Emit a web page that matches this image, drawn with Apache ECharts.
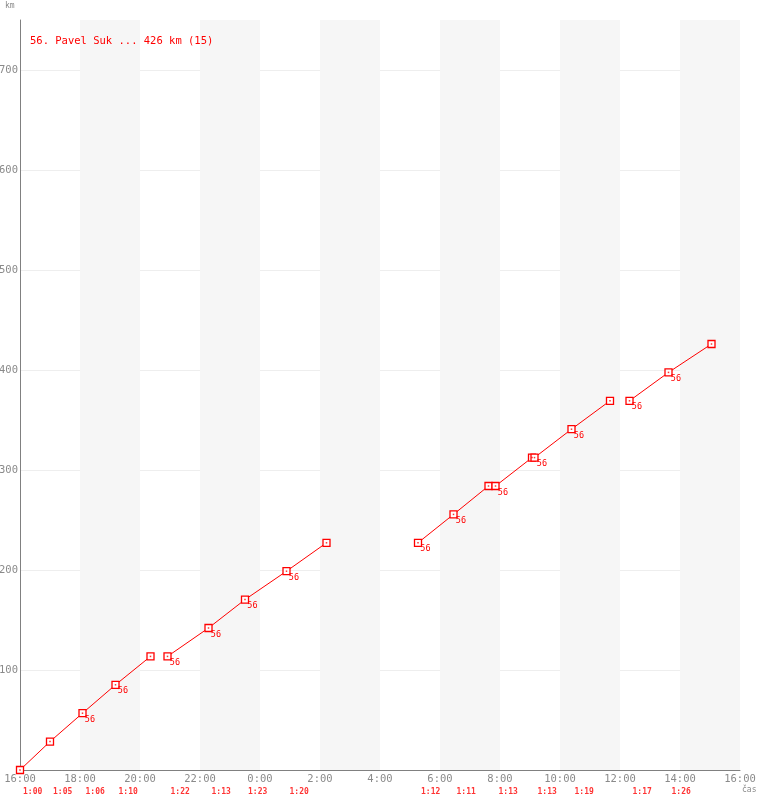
<!DOCTYPE html>
<html>
<head>
<meta charset="utf-8">
<script src="https://cdn.jsdelivr.net/npm/echarts@6/dist/echarts.min.js"></script>
<style>html,body{margin:0;padding:0;background:#fff;}#c{width:760px;height:800px;}</style>
</head>
<body>
<div id="c"></div>
<script>
// time in minutes since 16:00, distance in km
var segment = [1,1,1,1,1, 2,2,2,2,2, 3,3,3,3,3,3,3,3, 4,4,4];
var minutes = [0,60,125,191,261, 295,377,450,533,613, 796,867,937,951,1024,1029,1103,1180, 1219,1297,1383];
var km      = [0,28.4,56.8,85.2,113.6, 113.6,142,170.4,198.8,227.2, 227.2,255.6,284,284,312.4,312.4,340.8,369.2, 369.2,397.6,426];
var labeled = [0,0,1,1,0, 1,1,1,1,0, 1,1,0,1,0,1,1,0, 1,1,0];
var pointLabel = '56';
var lapStart = [0,60,125,191, 295,377,450,533, 796,867,951,1029,1103, 1219,1297];
var lapTime  = ['1:00','1:05','1:06','1:10', '1:22','1:13','1:23','1:20', '1:12','1:11','1:13','1:13','1:19', '1:17','1:26'];
var xTicks = ['16:00','18:00','20:00','22:00','0:00','2:00','4:00','6:00','8:00','10:00','12:00','14:00','16:00'];
var yTicks = [0,100,200,300,400,500,600,700];
var legendText = '56. Pavel Suk ... 426 km (15)';

var RED = '#ff0000';
var MONO = '"DejaVu Sans Mono", monospace';

var series = [];
var segs = [1,2,3,4];
segs.forEach(function(s){
  var data = [];
  for (var i = 0; i < minutes.length; i++) {
    if (segment[i] !== s) continue;
    data.push({
      value: [minutes[i], km[i]],
      label: {show: !!labeled[i]}
    });
  }
  series.push({
    type: 'line',
    name: legendText,
    data: data,
    symbol: 'rect',
    symbolSize: 7,
    showAllSymbol: true,
    animation: false,
    lineStyle: {color: RED, width: 1},
    itemStyle: {color: '#fff', borderColor: RED, borderWidth: 1.3},
    label: {
      position: [6.5, 6],
      formatter: function(){ return pointLabel; },
      color: RED,
      fontFamily: MONO,
      fontSize: 8.5
    },
    clip: false,
    z: 3
  });
  // centre dots of the markers
  series.push({
    type: 'scatter',
    data: data.map(function(d){ return d.value; }),
    symbol: 'rect',
    symbolSize: 1.5,
    itemStyle: {color: RED},
    animation: false,
    silent: true,
    clip: false,
    z: 4
  });
});

series.push({
  type: 'scatter',
  data: lapStart.map(function(t, i){ return {value: [t, 0], name: lapTime[i]}; }),
  symbolSize: 0,
  silent: true,
  animation: false,
  clip: false,
  label: {
    show: true,
    position: [3, 18],
    formatter: function(p){ return p.name; },
    color: RED,
    fontFamily: MONO,
    fontWeight: 'bold',
    fontSize: 8
  }
});

var chart = echarts.init(document.getElementById('c'), null, {renderer: 'canvas'});
chart.setOption({
  backgroundColor: '#fff',
  animation: false,
  title: {
    text: legendText,
    left: 25,
    top: 31,
    textStyle: {color: RED, fontFamily: MONO, fontSize: 10.5, fontWeight: 'normal'}
  },
  grid: {left: 20, right: 20, top: 20, bottom: 30, containLabel: false, outerBoundsMode: 'none'},
  xAxis: {
    type: 'value',
    min: 0,
    max: 1440,
    interval: 120,
    axisLine: {show: true, onZero: false, lineStyle: {color: '#808080', width: 1}},
    axisTick: {show: false},
    splitLine: {show: false},
    splitArea: {show: true, areaStyle: {color: ['rgba(255,255,255,0)', '#f6f6f6']}},
    axisLabel: {
      color: '#8a8a8a',
      fontFamily: MONO,
      fontSize: 10.5,
      margin: 4,
      formatter: function(v){ return xTicks[Math.round(v/120)]; }
    }
  },
  yAxis: {
    type: 'value',
    min: 0,
    max: 750,
    interval: 100,
    axisLine: {show: true, lineStyle: {color: '#808080', width: 1}},
    axisTick: {show: false},
    splitLine: {show: true, showMinLine: false, showMaxLine: false, lineStyle: {color: '#eeeeee', width: 1}},
    axisLabel: {
      color: '#8a8a8a',
      fontFamily: MONO,
      fontSize: 10.5,
      margin: 2,
      formatter: function(v){ return (yTicks.indexOf(v) > 0) ? String(v) : ''; }
    }
  },
  graphic: [
    {type: 'text', left: 5, top: 2, style: {text: 'km', fill: '#8a8a8a', font: '8px ' + MONO}},
    {type: 'text', left: 742, top: 786, style: {text: 'čas', fill: '#8a8a8a', font: '8px ' + MONO}}
  ],
  series: series
});
</script>
</body>
</html>
